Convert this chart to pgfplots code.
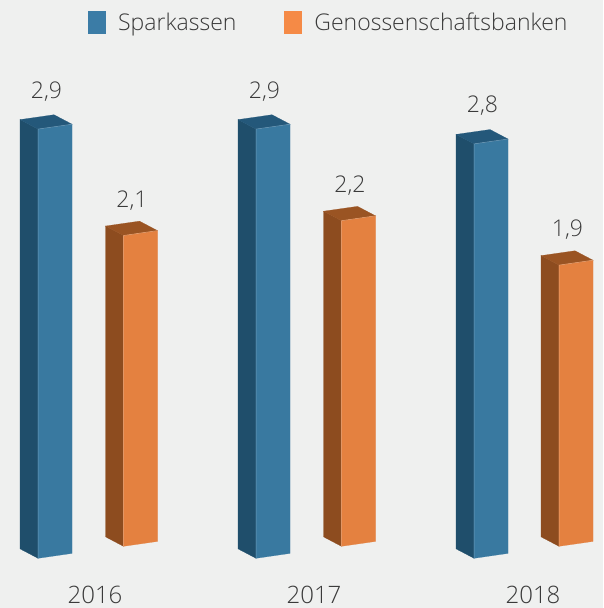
\documentclass[border=0pt]{standalone}
\usepackage{pgfplots}
\usepackage{pgfplotstable}
\pgfplotsset{compat=1.18}
\usepackage{fontspec}
\setmainfont{Open Sans}[UprightFont={* Light}]
\definecolor{bg}{HTML}{EFF0EF}
\definecolor{txt}{HTML}{3A3A3A}
\definecolor{bfront}{HTML}{3979A0}
\definecolor{bside}{HTML}{1F4E6B}
\definecolor{btop}{HTML}{24587A}
\definecolor{bedge}{HTML}{6E9CBA}
\definecolor{ofront}{HTML}{E48140}
\definecolor{oside}{HTML}{8D4C1F}
\definecolor{otop}{HTML}{9A5423}
\definecolor{oedge}{HTML}{EFA777}
\definecolor{legblue}{HTML}{3B7CA6}
\definecolor{legorange}{HTML}{F58A46}

% bar footprint: left x of side face (px), value
\pgfplotstableread{
L v
20 2.9
238 2.9
456 2.8
}\sparkassen
\pgfplotstableread{
L v
105.5 2.1
323.5 2.2
541 1.9
}\genossen

% #1 L, #2 value, #3 base offset, #4 side, #5 front, #6 top, #7 edge colour
\newcommand{\threedbar}[7]{%
  \pgfmathsetmacro\xA{#1}%
  \pgfmathsetmacro\xB{#1+18}%
  \pgfmathsetmacro\xC{#1+34}%
  \pgfmathsetmacro\xD{#1+52}%
  \pgfmathsetmacro\yF{#3}%
  \pgfmathsetmacro\yR{#3+0.033}%
  \pgfmathsetmacro\yS{#3+0.064}%
  \pgfmathsetmacro\tF{#2+#3}%
  \pgfmathsetmacro\tR{#2+#3+0.033}%
  \pgfmathsetmacro\tS{#2+#3+0.064}%
  \pgfmathsetmacro\tB{#2+#3+0.097}%
  \edef\tmp{%
    \noexpand\addplot[fill=#4,draw=#4,line width=0.2pt,forget plot] coordinates {(\xA,\yS) (\xB,\yF) (\xB,\tF) (\xA,\tS)} -- cycle;
    \noexpand\addplot[fill=#5,draw=#5,line width=0.2pt,forget plot] coordinates {(\xB,\yF) (\xD,\yR) (\xD,\tR) (\xB,\tF)} -- cycle;
    \noexpand\addplot[fill=#6,draw=#6,line width=0.2pt,forget plot] coordinates {(\xA,\tS) (\xC,\tB) (\xD,\tR) (\xB,\tF)} -- cycle;
    \noexpand\addplot[draw=#7,line width=0.5pt,forget plot] coordinates {(\xB,\yF) (\xB,\tF) (\xD,\tR)};
  }%
  \tmp
}

\pgfplotsset{
  valuelabels/.style={
    draw=none, mark=none, forget plot, point meta=explicit,
    nodes near coords={\pgfmathprintnumber[use comma,fixed,fixed zerofill,precision=1,assume math mode=true]{\pgfplotspointmeta}},
    every node near coord/.append style={anchor=center, text=txt, font=\fontsize{23}{27}\selectfont},
  }
}

\begin{document}
\begin{tikzpicture}
\begin{axis}[
  width=603pt, height=608pt, scale only axis,
  xmin=0, xmax=603, ymin=-0.3358, ymax=3.7723,
  axis line style={draw=none},
  xtick=\empty, ytick=\empty,
  axis background/.style={fill=bg},
  clip=false,
  legend style={draw=none, fill=none, at={(axis cs:88,3.622)}, anchor=west,
    inner sep=0pt, font=\fontsize{23}{27}\selectfont, text=txt,
    /tikz/every even column/.append style={column sep=46pt},
    /tikz/every odd column/.append style={column sep=10pt}},
  legend columns=2,
  legend cell align=left,
  legend image code/.code={\fill[#1] (0pt,-11.5pt) rectangle (18pt,11.5pt);},
]
\addlegendimage{fill=legblue, draw=none}
\addlegendentry{Sparkassen}
\addlegendimage{fill=legorange, draw=none}
\addlegendentry{Genossenschaftsbanken}

\pgfplotsforeachungrouped \i in {0,1,2}{%
  \pgfplotstablegetelem{\i}{L}\of\sparkassen \let\bL\pgfplotsretval
  \pgfplotstablegetelem{\i}{v}\of\sparkassen \let\bV\pgfplotsretval
  \threedbar{\bL}{\bV}{0}{bside}{bfront}{btop}{bedge}%
  \pgfplotstablegetelem{\i}{L}\of\genossen \let\oL\pgfplotsretval
  \pgfplotstablegetelem{\i}{v}\of\genossen \let\oV\pgfplotsretval
  \threedbar{\oL}{\oV}{0.081}{oside}{ofront}{otop}{oedge}%
}

\addplot[valuelabels]
  table[x expr=\thisrow{L}+26.5, y expr=\thisrow{v}+0.256, meta=v]{\sparkassen};
\addplot[valuelabels]
  table[x expr=\thisrow{L}+26.5, y expr=\thisrow{v}+0.319, meta=v]{\genossen};

\node[text=txt, inner sep=0pt, font=\fontsize{24}{28}\selectfont] at (axis cs:95,-0.245) {2016};
\node[text=txt, inner sep=0pt, font=\fontsize{24}{28}\selectfont] at (axis cs:314,-0.245) {2017};
\node[text=txt, inner sep=0pt, font=\fontsize{24}{28}\selectfont] at (axis cs:533,-0.245) {2018};
\end{axis}
\end{tikzpicture}
\end{document}
